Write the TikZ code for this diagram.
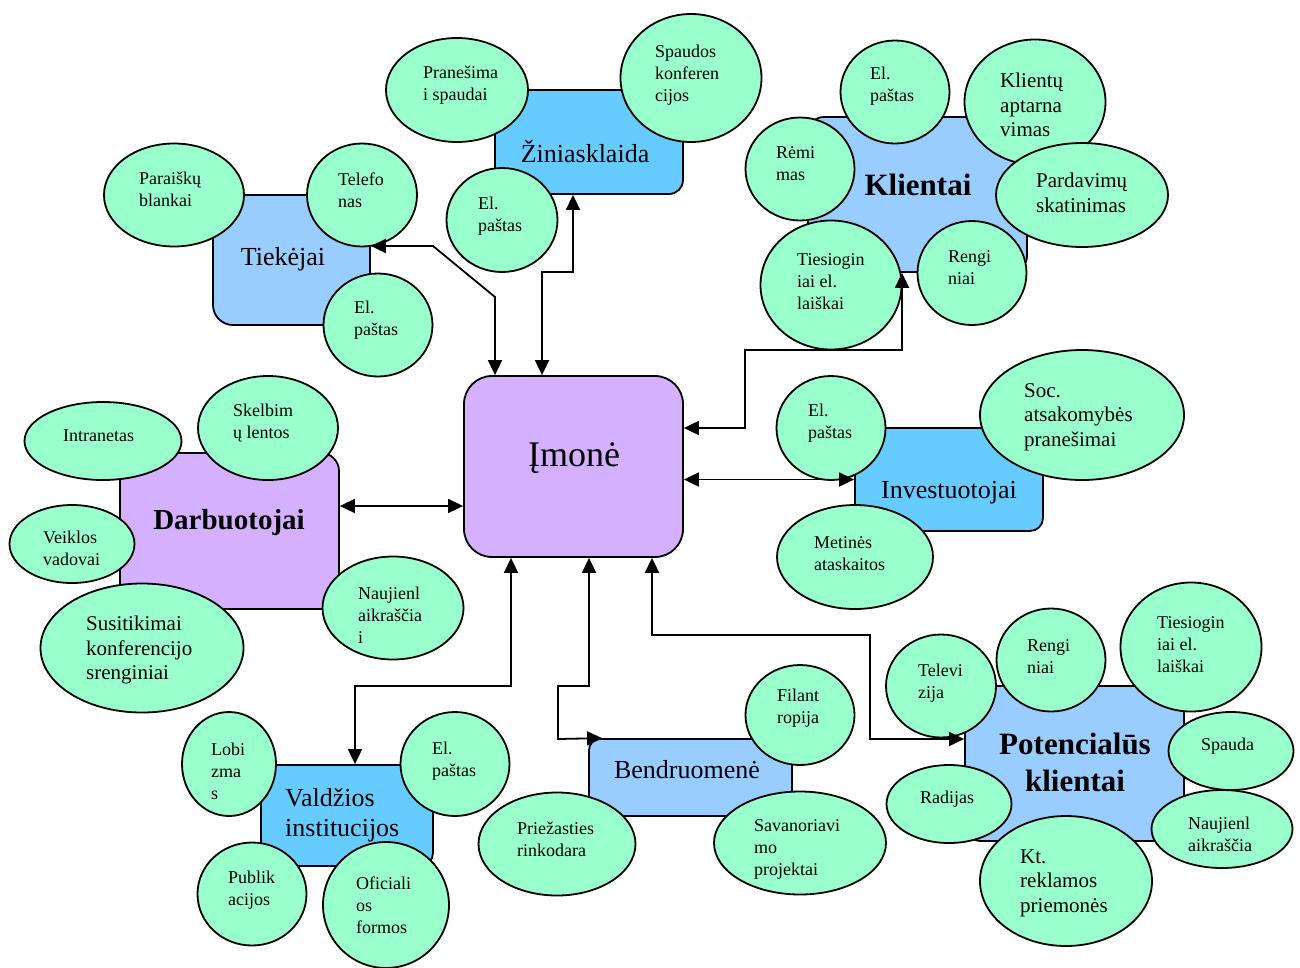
\documentclass[tikz,border=0pt]{standalone}
\usepackage{fontspec}
\setmainfont{Liberation Serif}
\usetikzlibrary{shapes.geometric,arrows.meta}

\definecolor{lavender}{RGB}{213,176,255}
\definecolor{paleblue}{RGB}{153,204,255}
\definecolor{skyblue}{RGB}{102,204,255}
\definecolor{mint}{RGB}{153,255,204}

\begin{document}
\begin{tikzpicture}[x=1pt,y=-1pt,
  bubble/.style={ellipse, draw, line width=1.8pt, fill=mint, inner sep=0pt},
  btext/.style={inner sep=0pt, anchor=west, align=left, yshift=-2pt, font=\fontsize{18}{22}\selectfont},
  bigtext/.style={btext, font=\fontsize{21}{24.5}\selectfont},
  box/.style={draw, line width=1.8pt, rounded corners=#1},
  box/.default=15pt,
  boxtext/.style={inner sep=0pt, font=\fontsize{26}{30}\selectfont},
  boldtext/.style={inner sep=0pt, align=center, font=\fontsize{31}{37}\selectfont\bfseries},
  link/.style={line width=1.8pt, {Triangle[length=15pt,width=14pt]}-{Triangle[length=15pt,width=14pt]}}]

\useasboundingbox (0,0) rectangle (1300,967);

% boxes
\node[box=28pt, fill=lavender, minimum width=219pt, minimum height=181pt] (imone) at (573.5,466.5) {};
\node[box=14pt, fill=skyblue, minimum width=188pt, minimum height=104pt] (zin) at (589,142) {};
\node[box=20pt, fill=paleblue, minimum width=157pt, minimum height=130pt] (tiek) at (291.5,260) {};
\node[box=16pt, fill=paleblue, minimum width=219pt, minimum height=155pt] (kl) at (917.5,194.5) {};
\node[box=18pt, fill=lavender, minimum width=219pt, minimum height=156pt] (darb) at (229.5,531) {};
\node[box=13pt, fill=skyblue, minimum width=188pt, minimum height=103pt] (inv) at (949,479.5) {};
\node[box=13pt, fill=skyblue, minimum width=172pt, minimum height=101pt] (val) at (347,815.5) {};
\node[box=11pt, fill=paleblue, minimum width=203pt, minimum height=77pt] (bend) at (690.5,777.5) {};
\node[box=16pt, fill=paleblue, minimum width=219pt, minimum height=155pt] (pot) at (1074.5,763.5) {};

\node[inner sep=0pt, font=\fontsize{36}{40}\selectfont] (imone-t) at (574,458) {Įmonė};
\node[boxtext] (zin-t) at (585,151) {Žiniasklaida};
\node[boxtext] (tiek-t) at (283,259) {Tiekėjai};
\node[boldtext] (kl-t) at (918,185) {Klientai};
\node[boldtext, font=\fontsize{29}{34}\selectfont\bfseries] (darb-t) at (229,523) {Darbuotojai};
\node[boxtext] (inv-t) at (949,493) {Investuotojai};
\node[boxtext, align=left, anchor=west] (val-t) at (285,815) {Valdžios\\institucijos};
\node[boxtext] (bend-t) at (687,770) {Bendruomenė};
\node[boldtext] (pot-t) at (1075,762) {Potencialūs\\klientai};

% Žiniasklaida
\node[bubble, minimum width=142pt, minimum height=104pt] (zin1) at (457,90) {};
\node[btext] (zin1-t) at (423,83.5) {Pranešima\\i spaudai};
\node[bubble, minimum width=141pt, minimum height=128pt] (zin2) at (691,78) {};
\node[btext] (zin2-t) at (655,73) {Spaudos\\konferen\\cijos};
\node[bubble, minimum width=111pt, minimum height=104pt] (zin3) at (502,220) {};
\node[btext] (zin3-t) at (478,214) {El.\\paštas};

% Tiekėjai
\node[bubble, minimum width=140pt, minimum height=103pt] (tiek1) at (174,195) {};
\node[btext] (tiek1-t) at (139,187.5) {Paraiškų\\blankai};
\node[bubble, minimum width=110pt, minimum height=103pt] (tiek2) at (362,195) {};
\node[btext] (tiek2-t) at (338,188) {Telefo\\nas};
\node[bubble, minimum width=109pt, minimum height=103pt] (tiek3) at (378,325) {};
\node[btext] (tiek3-t) at (354,318) {El.\\paštas};

% Klientai
\node[bubble, minimum width=109pt, minimum height=103pt] (kl1) at (895,92) {};
\node[btext] (kl1-t) at (870,84) {El.\\paštas};
\node[bubble, minimum width=141pt, minimum height=125pt] (kl2) at (1035,102) {};
\node[bigtext] (kl2-t) at (1000,103) {Klientų\\aptarna\\vimas};
\node[bubble, minimum width=109pt, minimum height=103pt] (kl3) at (800,169) {};
\node[btext] (kl3-t) at (776,162) {Rėmi\\mas};
\node[bubble, minimum width=172pt, minimum height=104pt] (kl4) at (1082,195) {};
\node[bigtext] (kl4-t) at (1036,191) {Pardavimų\\skatinimas};
\node[bubble, minimum width=141pt, minimum height=129pt] (kl5) at (831,285) {};
\node[btext] (kl5-t) at (797,280) {Tiesiogin\\iai el.\\laiškai};
\node[bubble, minimum width=109pt, minimum height=104pt] (kl6) at (972,273) {};
\node[btext] (kl6-t) at (948,266) {Rengi\\niai};

% Investuotojai
\node[bubble, minimum width=109pt, minimum height=104pt] (inv1) at (831,428) {};
\node[btext] (inv1-t) at (808,421.5) {El.\\paštas};
\node[bubble, minimum width=204pt, minimum height=130pt] (inv2) at (1082,415) {};
\node[bigtext] (inv2-t) at (1024,415) {Soc.\\atsakomybės\\pranešimai};
\node[bubble, minimum width=156pt, minimum height=104pt] (inv3) at (855,557) {};
\node[btext] (inv3-t) at (814,552) {Metinės\\ataskaitos};

% Darbuotojai
\node[bubble, minimum width=157pt, minimum height=78pt] (darb1) at (103,441) {};
\node[btext] (darb1-t) at (63,434) {Intranetas};
\node[bubble, minimum width=140pt, minimum height=104pt] (darb2) at (268,428) {};
\node[btext] (darb2-t) at (233,421.5) {Skelbim\\ų lentos};
\node[bubble, minimum width=125pt, minimum height=78pt] (darb3) at (72,544) {};
\node[btext] (darb3-t) at (43,546.5) {Veiklos\\vadovai};
\node[bubble, minimum width=203pt, minimum height=129pt] (darb4) at (142,648) {};
\node[bigtext] (darb4-t) at (86,648) {Susitikimai\\konferencijo\\srenginiai};
\node[bubble, minimum width=141pt, minimum height=103pt] (darb5) at (393,608) {};
\node[btext] (darb5-t) at (358,613) {Naujienl\\aikraščia\\i};

% Valdžios institucijos
\node[bubble, minimum width=94pt, minimum height=104pt] (val1) at (229,764) {};
\node[btext] (val1-t) at (211,769) {Lobi\\zma\\s};
\node[bubble, minimum width=109pt, minimum height=104pt] (val2) at (455,764) {};
\node[btext] (val2-t) at (432,759) {El.\\paštas};
\node[bubble, minimum width=109pt, minimum height=103pt] (val3) at (252,894) {};
\node[btext] (val3-t) at (228,888) {Publik\\acijos};
\node[bubble, minimum width=126pt, minimum height=126pt] (val4) at (386,905) {};
\node[btext] (val4-t) at (356,903) {Oficiali\\os\\formos};

% Bendruomenė
\node[bubble, minimum width=109pt, minimum height=100pt] (bend1) at (800,715) {};
\node[btext] (bend1-t) at (777,706) {Filant\\ropija};
\node[bubble, minimum width=157pt, minimum height=103pt] (bend2) at (557,844) {};
\node[btext] (bend2-t) at (517,837) {Priežasties\\rinkodara};
\node[bubble, minimum width=172pt, minimum height=103pt] (bend3) at (800,843) {};
\node[btext] (bend3-t) at (754,847) {Savanoriavi\\mo\\projektai};

% Potencialūs klientai
\node[bubble, minimum width=110pt, minimum height=103pt] (pot1) at (941,686) {};
\node[btext] (pot1-t) at (918,681) {Televi\\zija};
\node[bubble, minimum width=109pt, minimum height=103pt] (pot2) at (1051,660) {};
\node[btext] (pot2-t) at (1027,655) {Rengi\\niai};
\node[bubble, minimum width=141pt, minimum height=129pt] (pot3) at (1191,647) {};
\node[btext] (pot3-t) at (1157,643) {Tiesiogin\\iai el.\\laiškai};
\node[bubble, minimum width=125pt, minimum height=78pt] (pot4) at (1231,751) {};
\node[btext] (pot4-t) at (1201,744) {Spauda};
\node[bubble, minimum width=125pt, minimum height=78pt] (pot5) at (949,804) {};
\node[btext] (pot5-t) at (920,797) {Radijas};
\node[bubble, minimum width=141pt, minimum height=78pt] (pot6) at (1222,829) {};
\node[btext] (pot6-t) at (1188,832) {Naujienl\\aikraščia};
\node[bubble, minimum width=172pt, minimum height=130pt] (pot7) at (1066,881) {};
\node[bigtext] (pot7-t) at (1020,881) {Kt.\\reklamos\\priemonės};

% bends of the connectors
\coordinate (t1) at (433,246);
\coordinate (t2) at (495,297);
\coordinate (z1) at (573,272);
\coordinate (z2) at (542,272);
\coordinate (k1) at (745,428);
\coordinate (k2) at (745,350);
\coordinate (k3) at (902,350);
\coordinate (d1) at (400,506);
\coordinate (v1) at (511,686);
\coordinate (v2) at (355,686);
\coordinate (b1) at (589,686);
\coordinate (b2) at (558,686);
\coordinate (b3) at (558,739);
\coordinate (p1) at (652,635);
\coordinate (p2) at (870,635);
\coordinate (p3) at (870,739);

\draw[link] (tiek.east |- t1) -- (t1) -- (t2) -- (imone.north -| t2);
\draw[link] (zin.south -| z1) -- (z1) -- (z2) -- (imone.north -| z2);
\draw[link] (imone.east |- k1) -- (k1) -- (k2) -- (k3) -- (kl.south -| k3);
\draw[link] (imone.east |- inv.west) -- (inv.west);
\draw[link] (darb.east |- d1) -- (imone.west |- d1);
\draw[link] (imone.south -| v1) -- (v1) -- (v2) -- (val.north -| v2);
\draw[link] (imone.south -| b1) -- (b1) -- (b2) -- (b3) -- ([xshift=14pt]bend.north west);
\draw[link] (imone.south -| p1) -- (p1) -- (p2) -- (p3) -- (pot.west |- p3);

\end{tikzpicture}
\end{document}
